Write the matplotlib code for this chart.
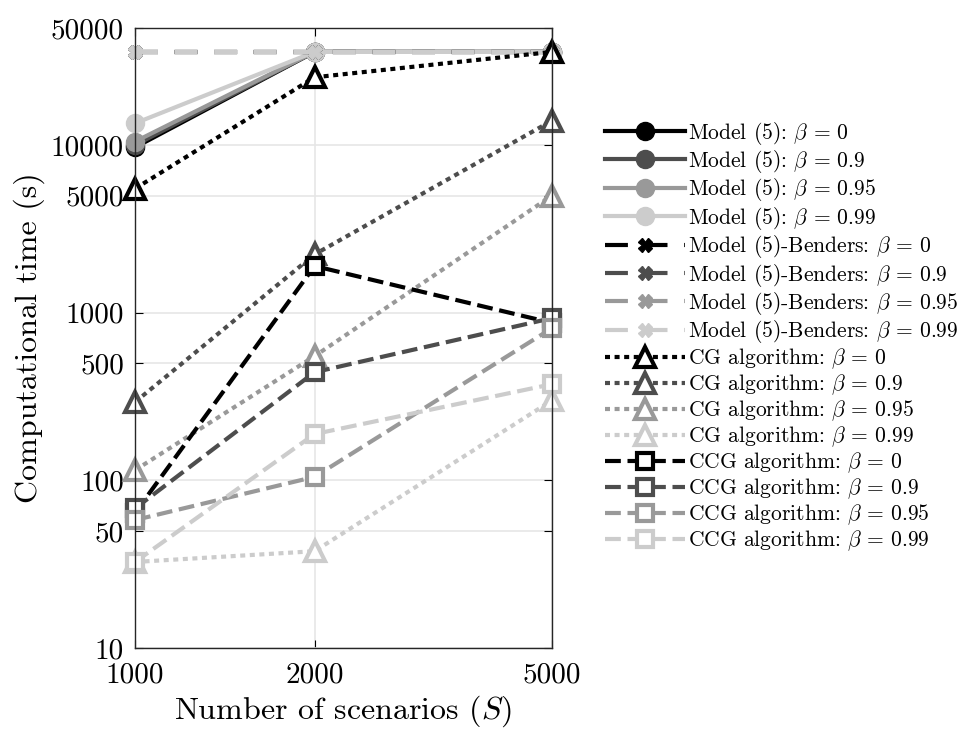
import matplotlib
matplotlib.use("Agg")
import matplotlib.pyplot as plt

plt.rcParams['font.family'] = 'serif'
plt.rcParams['font.serif'] = ['cmr10']
plt.rcParams['mathtext.fontset'] = 'cm'
plt.rcParams['axes.formatter.use_mathtext'] = True

scenarios = [1000, 2000, 5000]
betas = ['0', '0.9', '0.95', '0.99']
colors = ['#000000', '#4d4d4d', '#999999', '#cccccc']

model = [
    [9700, 36000, 36000],
    [10000, 36000, 36000],
    [10500, 36000, 36000],
    [13500, 36000, 36000],
]
benders = [
    [36000, 36000, 36000],
    [36000, 36000, 36000],
    [36000, 36000, 36000],
    [36000, 36000, 36000],
]
cg = [
    [5500, 25400, 36000],
    [293, 2230, 14000],
    [115, 551, 5000],
    [32.6, 37.8, 300],
]
ccg = [
    [64, 1900, 870],
    [68, 442, 929],
    [58, 105, 809],
    [32.6, 189, 375],
]

yticks = [10, 50, 100, 500, 1000, 5000, 10000, 50000]
ytick_labels = ['10', '50', '100', '500', '1000', '5000', '10000', '50000']
xtick_labels = ['1000', '2000', '5000']

fig = plt.figure(figsize=(9.63, 7.29), dpi=100)
ax = fig.add_axes([135/963, 1-648/729, (552-135)/963, (648-28)/729])

lw = 3.0
beta_fmt = r'$\beta$ = %s'
for b, c, y in zip(betas, colors, model):
    ax.plot(scenarios, y, '-', color=c, lw=lw, marker='o', ms=13,
            mfc=c, mec=c, label='Model (5): ' + beta_fmt % b)
for b, c, y in zip(betas, colors, benders):
    ax.plot(scenarios, y, color=c, lw=lw, ls=(0, (5.5, 4)), marker='X', ms=10,
            mfc=c, mec=c, label='Model (5)-Benders: ' + beta_fmt % b)
for b, c, y in zip(betas, colors, cg):
    ax.plot(scenarios, y, color=c, lw=lw, ls=(0, (1.2, 1.1)), marker='^', ms=14,
            mfc='white', mec=c, mew=3, dash_capstyle='butt',
            label='CG algorithm: ' + beta_fmt % b)
for b, c, y in zip(betas, colors, ccg):
    ax.plot(scenarios, y, color=c, lw=lw, ls=(0, (3.8, 1.6)), marker='s', ms=11,
            mfc='white', mec=c, mew=3,
            label='CCG algorithm: ' + beta_fmt % b)

ax.set_xscale('log')
ax.set_yscale('log')
ax.set_xlim(1000, 5000)
ax.set_ylim(10, 50000)
ax.set_xticks(scenarios)
ax.set_xticklabels(xtick_labels)
ax.set_yticks(yticks)
ax.set_yticklabels(ytick_labels)
ax.minorticks_off()
ax.tick_params(axis='both', which='both', direction='in', labelsize=21,
               top=True, right=True, length=6, width=0.8, pad=8)
ax.tick_params(axis='x', pad=10)
ax.grid(True, color='#e6e6e6', lw=1.2)
ax.set_axisbelow(True)
for s in ax.spines.values():
    s.set_linewidth(1.0)
    s.set_color('#262626')

ax.set_xlabel(r'Number of scenarios ($S$)', fontsize=23, labelpad=4)
ax.set_ylabel('Computational time (s)', fontsize=23, labelpad=4)

leg = ax.legend(loc='center left', bbox_to_anchor=(605/963, 1-336.5/729),
                bbox_transform=fig.transFigure, frameon=False,
                fontsize=15.5, handlelength=3.7, handletextpad=0.15,
                labelspacing=0.065, borderaxespad=0, borderpad=0)
for l in ax.get_lines():
    l.set_clip_on(False)

fig.savefig('out.png', dpi=100)
